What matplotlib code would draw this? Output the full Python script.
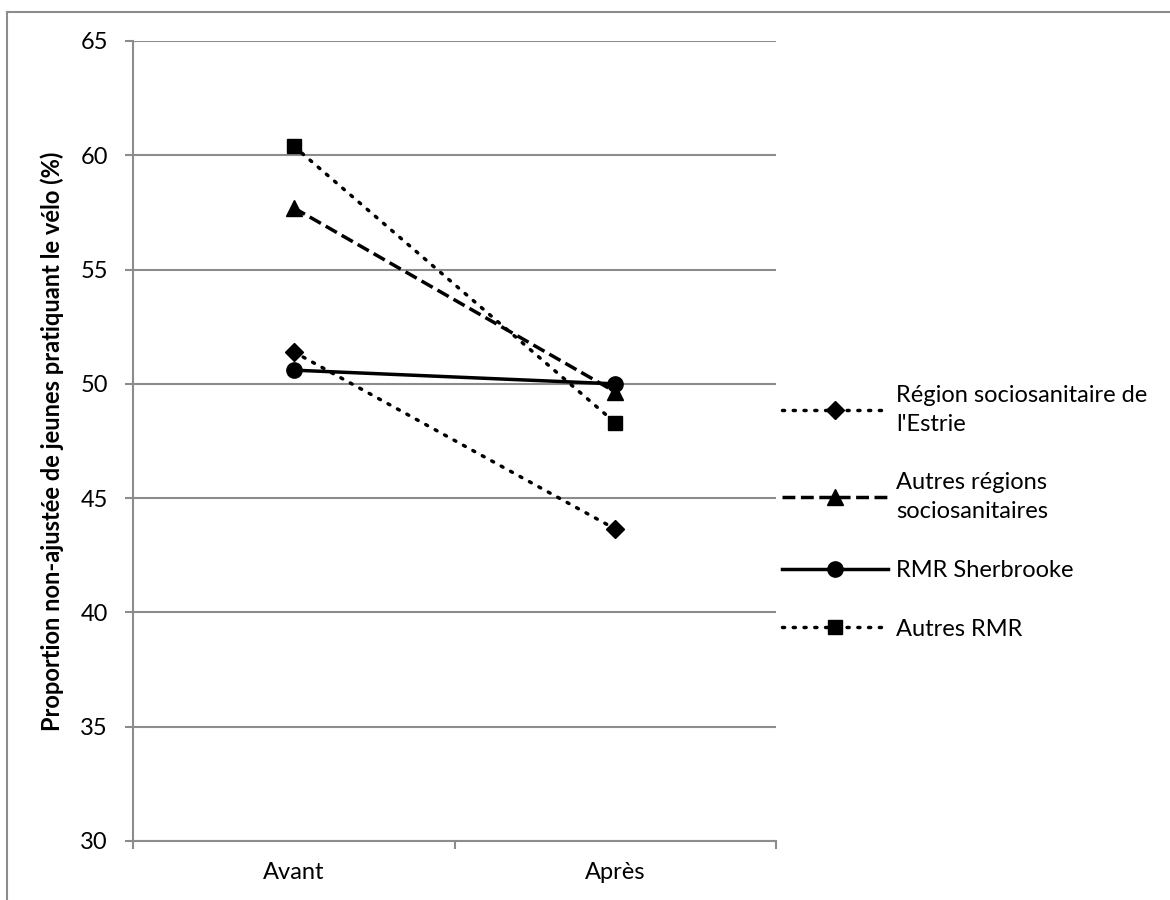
import matplotlib
matplotlib.use('Agg')
import matplotlib.pyplot as plt
from matplotlib.lines import Line2D

plt.rcParams['font.family'] = ['Lato', 'DejaVu Sans']

periods = ['Avant', 'Après']
estrie = [51.4, 43.65]
autres_regions = [57.7, 49.65]
rmr_sherbrooke = [50.6, 50.0]
autres_rmr = [60.4, 48.3]
labels = ["Région sociosanitaire de\nl'Estrie", "Autres régions\nsociosanitaires",
          "RMR Sherbrooke", "Autres RMR"]
yticks = [30, 35, 40, 45, 50, 55, 60, 65]

grey = '#8c8c8c'
fs = 17

fig = plt.figure(figsize=(11.7, 9), dpi=100)
ax = fig.add_axes([133/1170, 59/900, 643/1170, 800/900])

x = [1, 2]
dot = (0, (0.6, 2.5))
ax.plot(x, estrie, color='black', lw=2.5, ls=dot, dash_capstyle='round',
        marker='D', ms=9, label=labels[0])
ax.plot(x, autres_regions, color='black', lw=2.5, ls=(0, (3.7, 1.6)),
        marker='^', ms=11, label=labels[1])
ax.plot(x, rmr_sherbrooke, color='black', lw=2.5, ls='-',
        marker='o', ms=11, label=labels[2])
ax.plot(x, autres_rmr, color='black', lw=2.5, ls=dot, dash_capstyle='round',
        marker='s', ms=10, label=labels[3])

ax.set_xlim(0.5, 2.5)
ax.set_ylim(30, 65)
ax.set_yticks(yticks)
ax.set_xticks(x)
ax.set_xticklabels(periods)
ax.set_xticks([0.5, 1.5, 2.5], minor=True)
ax.tick_params(axis='x', which='major', length=0, pad=15, labelsize=fs)
ax.tick_params(axis='x', which='minor', length=6, width=1.5, color=grey, direction='out')
ax.tick_params(axis='y', length=6, width=1.5, color=grey, pad=12, labelsize=fs)
ax.yaxis.grid(True, color=grey, lw=1.5)
ax.set_axisbelow(True)
for s in ['top', 'right']:
    ax.spines[s].set_visible(False)
for s in ['left', 'bottom']:
    ax.spines[s].set_color(grey)
    ax.spines[s].set_linewidth(1.5)

ax.set_ylabel('Proportion non-ajustée de jeunes pratiquant le vélo (%)',
              fontsize=fs, fontweight='bold', labelpad=12)

leg = ax.legend(loc='upper left', bbox_to_anchor=(1.009, 0.57), frameon=False,
                fontsize=fs, handlelength=4.5, handletextpad=0.35,
                labelspacing=1.6, borderaxespad=0, borderpad=0)
for t in leg.get_texts():
    t.set_linespacing(1.45)

# chart frame
fig.add_artist(Line2D([7/1170, 1], [1 - 11.5/900, 1 - 11.5/900], color=grey, lw=1.5))
fig.add_artist(Line2D([7/1170, 7/1170], [0, 1 - 11.5/900], color=grey, lw=1.5))

fig.savefig('out.png', dpi=100)
